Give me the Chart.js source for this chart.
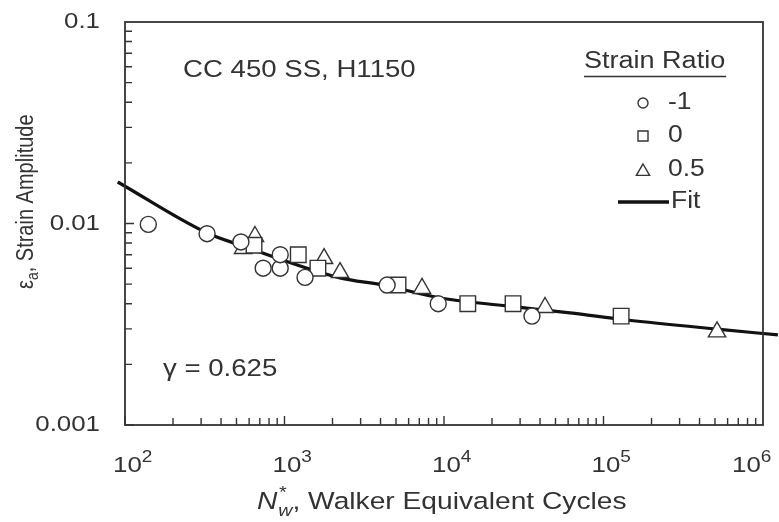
<!DOCTYPE html>
<html>
<head>
<meta charset="utf-8">
<script src="https://cdn.jsdelivr.net/npm/chart.js@4.4.0/dist/chart.umd.min.js"></script>
<style>
  html, body { margin: 0; padding: 0; background: #fff; }
  canvas { display: block; }
</style>
</head>
<body>
<canvas id="grafica" width="779" height="522"></canvas>
<script>
// relacion de deformacion -1
const ciclosR1 = [140, 327, 533, 735, 940, 940, 1345, 4400, 9200, 35600];
const defR1 = [0.0099, 0.0089, 0.0081, 0.0060, 0.0060, 0.0070, 0.0054, 0.00495, 0.0040, 0.00347];
// relacion 0
const ciclosR0 = [644, 1220, 1620, 5150, 14100, 27100, 129000];
const defR0 = [0.0078, 0.0070, 0.0060, 0.00495, 0.0040, 0.0040, 0.00347];
// relacion 0.5
const ciclosR05 = [550, 653, 1770, 2230, 7280, 43000, 515000];
const defR05 = [0.00752, 0.00862, 0.0067, 0.00571, 0.00476, 0.00383, 0.0029];
// curva ajustada
const ciclosFit = [90, 327, 526, 2228, 4150, 9440, 24800, 61700, 140000, 515000, 1240000];
const defFit = [0.01607, 0.00897, 0.00782, 0.00537, 0.00495, 0.00427, 0.00390, 0.00360, 0.00332, 0.00299, 0.00280];

const expX = [2, 3, 4, 5, 6];              // etiquetas 10^n
const ticksY = ["0.001", "0.01", "0.1"];
const leyenda = ["-1", "0", "0.5"];

const ESTIRAR = 1.15;
const GRIS = "#333";
const FUENTE = '"Liberation Sans", Arial, Helvetica, sans-serif';

const puntos = (xs, ys) => xs.map((x, i) => ({ x: x, y: ys[i] }));

const texto = (ctx, str, x, y, size, align, base, italic) => {
  ctx.save();
  ctx.font = (italic ? "italic " : "") + size + "px " + FUENTE;
  ctx.textBaseline = base || "alphabetic";
  ctx.fillStyle = GRIS;
  ctx.translate(x, y);
  ctx.scale(ESTIRAR, 1);
  let w = ctx.measureText(str).width;
  let dx = align === "right" ? -w : align === "center" ? -w / 2 : 0;
  ctx.fillText(str, dx, 0);
  ctx.restore();
  return w * ESTIRAR;
};

// texto vertical: el ancho de letra se estira en x de pantalla
const textoV = (ctx, str, x, y, size) => {
  ctx.save();
  ctx.font = size + "px " + FUENTE;
  ctx.fillStyle = GRIS;
  ctx.translate(x, y);
  ctx.scale(1, ESTIRAR);
  ctx.fillText(str, 0, 0);
  let w = ctx.measureText(str).width;
  ctx.restore();
  return w;
};

const marcador = (ctx, tipo, x, y, r) => {
  ctx.save();
  ctx.strokeStyle = GRIS;
  ctx.lineWidth = 1.4;
  ctx.fillStyle = "#fff";
  ctx.beginPath();
  if (tipo === "circle") {
    ctx.arc(x, y, r, 0, Math.PI * 2);
  } else if (tipo === "rect") {
    ctx.rect(x - r, y - r, 2 * r, 2 * r);
  } else {
    ctx.moveTo(x, y - r);
    ctx.lineTo(x + r * 1.1, y + r * 0.9);
    ctx.lineTo(x - r * 1.1, y + r * 0.9);
    ctx.closePath();
  }
  ctx.fill();
  ctx.stroke();
  ctx.restore();
};

const marco = {
  id: "marco",
  afterDraw(chart) {
    const ctx = chart.ctx;
    const a = chart.chartArea;
    const sx = chart.scales.x;
    const sy = chart.scales.y;

    // caja de ejes
    ctx.save();
    ctx.strokeStyle = GRIS;
    ctx.lineWidth = 1.8;
    ctx.strokeRect(a.left, a.top, a.right - a.left, a.bottom - a.top);

    // marcas hacia adentro
    ctx.lineWidth = 1.4;
    ctx.beginPath();
    for (let k = 2; k < 6; k++) {
      for (let m = 1; m < 10; m++) {
        let px = sx.getPixelForValue(m * Math.pow(10, k));
        let len = m === 1 ? 9 : 7;
        ctx.moveTo(px, a.bottom);
        ctx.lineTo(px, a.bottom - len);
      }
    }
    for (let k = -3; k < -1; k++) {
      for (let m = 1; m < 10; m++) {
        let py = sy.getPixelForValue(m * Math.pow(10, k));
        let len = m === 1 ? 9 : 7;
        ctx.moveTo(a.left, py);
        ctx.lineTo(a.left + len, py);
      }
    }
    ctx.stroke();
    ctx.restore();

    // etiquetas eje y
    ticksY.forEach(t => {
      texto(ctx, t, 100, sy.getPixelForValue(parseFloat(t)), 22.5, "right", "middle");
    });

    // etiquetas eje x, 10 con exponente
    expX.forEach(n => {
      let px = sx.getPixelForValue(Math.pow(10, n));
      let x0 = px - 12;
      if (x0 + 38 > 770) x0 = 770 - 38;
      let w = texto(ctx, "10", x0, 472, 22.5, "left");
      texto(ctx, String(n), x0 + w, 462, 16.5, "left");
    });

    // titulo eje x
    let xt = 257;
    xt += texto(ctx, "N", xt, 509, 24.5, "left", "alphabetic", true);
    texto(ctx, "*", xt + 1, 498, 17, "left", "alphabetic", true);
    xt += texto(ctx, "w", xt + 1, 516, 17, "left", "alphabetic", true) + 1;
    texto(ctx, ", Walker Equivalent Cycles", xt, 509, 24.5, "left");

    // titulo eje y
    ctx.save();
    ctx.translate(33, 289);
    ctx.rotate(-Math.PI / 2);
    let yt = 0;
    yt += textoV(ctx, "\u03b5", yt, 0, 20);
    yt += textoV(ctx, "a", yt, 5, 14);
    textoV(ctx, ", Strain Amplitude", yt, 0, 20);
    ctx.restore();

    // anotaciones
    texto(ctx, "CC 450 SS, H1150", 183, 77, 24, "left");
    texto(ctx, "\u03b3 = 0.625", 163, 376, 24, "left");

    // leyenda
    let wl = texto(ctx, "Strain Ratio", 584, 68, 23.5, "left");
    ctx.save();
    ctx.strokeStyle = GRIS;
    ctx.lineWidth = 1.5;
    ctx.beginPath();
    ctx.moveTo(584, 76.5);
    ctx.lineTo(584 + wl + 1, 76.5);
    ctx.stroke();
    ctx.restore();
    const filas = [103, 136, 170];
    const formas = ["circle", "rect", "triangle"];
    leyenda.forEach((l, i) => {
      marcador(ctx, formas[i], 643, filas[i], formas[i] === "triangle" ? 6 : 5);
      texto(ctx, l, 668, filas[i], 23, "left", "middle");
    });
    ctx.save();
    ctx.strokeStyle = "#111";
    ctx.lineWidth = 3.5;
    ctx.beginPath();
    ctx.moveTo(618, 202);
    ctx.lineTo(669, 202);
    ctx.stroke();
    ctx.restore();
    texto(ctx, "Fit", 671, 202, 23, "left", "middle");
  }
};

const estiloPunto = (forma, r) => ({
  pointStyle: forma,
  pointRadius: r,
  pointHoverRadius: r,
  pointBorderWidth: 1.4,
  pointBorderColor: GRIS,
  pointBackgroundColor: "#fff",
  borderColor: GRIS,
  backgroundColor: "#fff",
  showLine: false,
  order: 0
});

new Chart(document.querySelector("#grafica"), {
  type: "scatter",
  data: {
    datasets: [
      Object.assign({ label: "-1", data: puntos(ciclosR1, defR1) }, estiloPunto("circle", 8)),
      Object.assign({ label: "0", data: puntos(ciclosR0, defR0) }, estiloPunto("rect", 11)),
      Object.assign({ label: "0.5", data: puntos(ciclosR05, defR05) }, estiloPunto("triangle", 10)),
      {
        label: "Fit",
        data: puntos(ciclosFit, defFit),
        showLine: true,
        borderColor: "#111",
        borderWidth: 3.2,
        pointRadius: 0,
        cubicInterpolationMode: "monotone",
        clip: false,
        order: 1
      }
    ]
  },
  options: {
    responsive: false,
    animation: false,
    devicePixelRatio: 1,
    layout: { padding: { left: 0, top: 22, right: 16, bottom: 0 } },
    plugins: { legend: { display: false }, tooltip: { enabled: false } },
    scales: {
      x: {
        type: "logarithmic",
        min: 100,
        max: 1000000,
        ticks: { display: false },
        grid: { display: false },
        border: { display: false },
        afterFit: s => { s.height = 97; }
      },
      y: {
        type: "logarithmic",
        min: 0.001,
        max: 0.1,
        ticks: { display: false },
        grid: { display: false },
        border: { display: false },
        afterFit: s => { s.width = 125; }
      }
    }
  },
  plugins: [marco]
});
</script>
</body>
</html>
